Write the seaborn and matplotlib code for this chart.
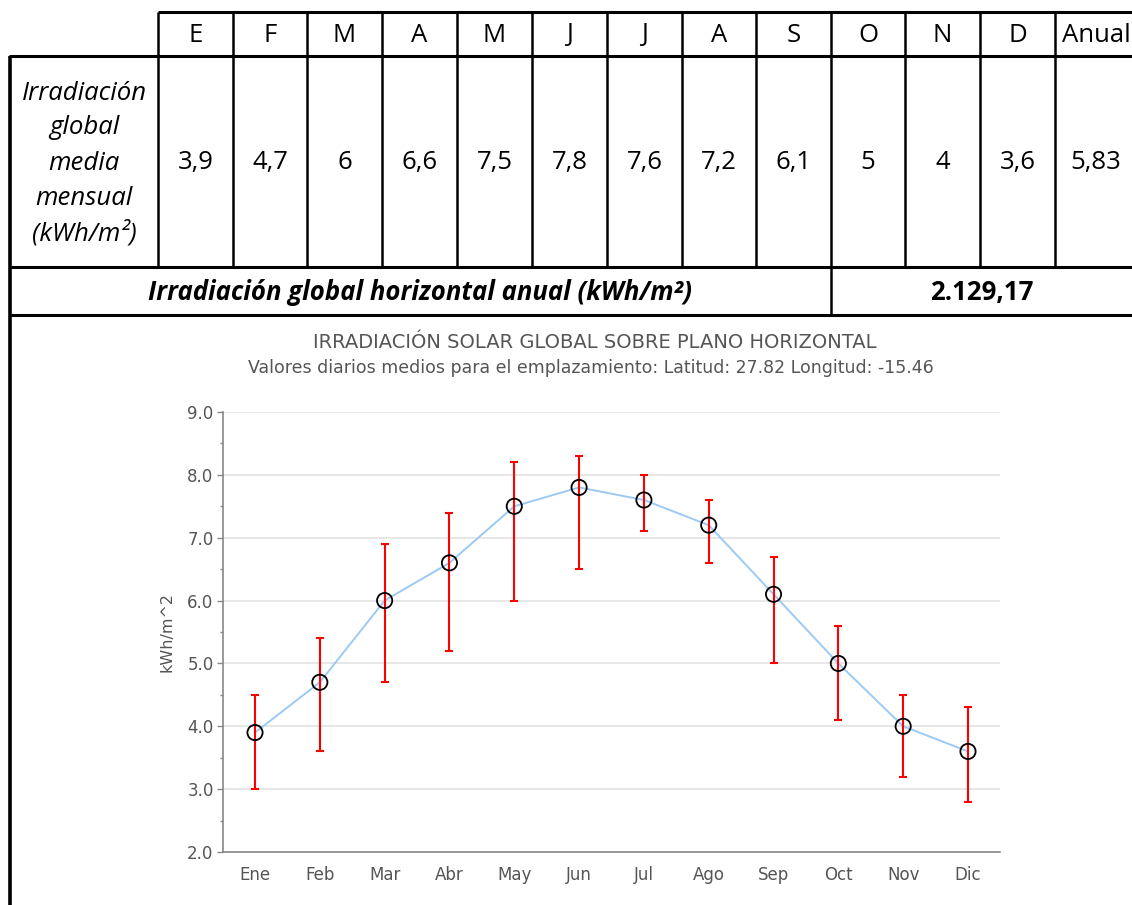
import numpy as np
import pandas as pd
import matplotlib
matplotlib.use("Agg")
import matplotlib.pyplot as plt
import seaborn as sns
from matplotlib.ticker import MultipleLocator, FormatStrFormatter

# ---------------- data ----------------
meses = ["Ene", "Feb", "Mar", "Abr", "May", "Jun", "Jul", "Ago", "Sep", "Oct", "Nov", "Dic"]
irradiacion = [3.9, 4.7, 6.0, 6.6, 7.5, 7.8, 7.6, 7.2, 6.1, 5.0, 4.0, 3.6]
minimo = [3.0, 3.6, 4.7, 5.2, 6.0, 6.5, 7.1, 6.6, 5.0, 4.1, 3.2, 2.8]
maximo = [4.5, 5.4, 6.9, 7.4, 8.2, 8.3, 8.0, 7.6, 6.7, 5.6, 4.5, 4.3]

cabecera = ["E", "F", "M", "A", "M", "J", "J", "A", "S", "O", "N", "D", "Anual"]
valores_tabla = ["3,9", "4,7", "6", "6,6", "7,5", "7,8", "7,6", "7,2", "6,1", "5", "4", "3,6", "5,83"]
etiqueta_fila = ["Irradiación", "global", "media", "mensual", "(kWh/m²)"]
etiqueta_total = "Irradiación global horizontal anual (kWh/m²)"
valor_total = "2.129,17"

titulo = "IRRADIACIÓN SOLAR GLOBAL SOBRE PLANO HORIZONTAL"
subtitulo = "Valores diarios medios para el emplazamiento: Latitud: 27.82 Longitud: -15.46"
etiqueta_y = "kWh/m^2"

# ---------------- figure ----------------
sns.set_theme(style="white")
plt.rcParams['font.family'] = ['DejaVu Sans']

W, H = 1132, 905
fig = plt.figure(figsize=(W / 100, H / 100), dpi=100)
fig.patch.set_facecolor("white")

# table layer (pixel coordinates)
tab = fig.add_axes([0, 0, 1, 1])
tab.set_xlim(0, W)
tab.set_ylim(H, 0)
tab.axis("off")

col_edges = [158, 233, 307, 382, 457, 532, 607, 682, 756, 831, 905, 980, 1055, 1135]
y_top, y_head, y_data, y_total = 12, 56, 267, 315
x_left = 10
lw_h = 2.2
lw_v = 1.8
k = dict(color="black", solid_capstyle="butt")

tab.plot([col_edges[0], W + 5], [y_top, y_top], lw=lw_h, **k)
for yy in (y_head, y_data, y_total):
    tab.plot([x_left - 1.5, W + 5], [yy, yy], lw=lw_h, **k)
for xe in col_edges[:-1]:
    tab.plot([xe, xe], [y_top, y_data], lw=lw_v, **k)
tab.plot([x_left, x_left], [y_head, H + 5], lw=2.6, **k)
tab.plot([831, 831], [y_data, y_total], lw=lw_v, **k)

tfont = ['Open Sans', 'DejaVu Sans']
fs_t = 18.5
for i, (hd, vv) in enumerate(zip(cabecera, valores_tabla)):
    cx = (col_edges[i] + col_edges[i + 1]) / 2
    if i == len(cabecera) - 1:
        cx = 1096
    tab.text(cx, (y_top + y_head) / 2 + 1, hd, ha="center", va="center",
             fontsize=fs_t, family=tfont, color="black")
    tab.text(cx, (y_head + y_data) / 2 + 1, vv, ha="center", va="center",
             fontsize=fs_t, family=tfont, color="black")

for j, line in enumerate(etiqueta_fila):
    tab.text(84, 163 + (j - 2) * 35, line, ha="center", va="center",
             fontsize=fs_t, family=tfont, style="italic", color="black")

tab.text(420, (y_data + y_total) / 2 + 1, etiqueta_total, ha="center", va="center",
         fontsize=fs_t, family=tfont, style="italic", weight="bold", color="black")
tab.text(982, (y_data + y_total) / 2 + 1, valor_total, ha="center", va="center",
         fontsize=fs_t, family=tfont, weight="bold", color="black")

# chart titles
fig.text(595 / W, 1 - 343 / H, titulo, ha="center", va="center",
         color="#555555", fontsize=14)
fig.text(591 / W, 1 - 368 / H, subtitulo, ha="center", va="center",
         color="#555555", fontsize=12.5)

# ---------------- chart ----------------
ax = fig.add_axes([222.6 / W, (H - 852) / H, (1000.4 - 222.6) / W, (852 - 412) / H])
df = pd.DataFrame({"mes": meses, "valor": irradiacion, "min": minimo, "max": maximo})

sns.lineplot(data=df, x="mes", y="valor", ax=ax, sort=False, color="#9ccaf5",
             linewidth=1.4, zorder=2)
ax.errorbar(df["mes"], df["valor"],
            yerr=[df["valor"] - df["min"], df["max"] - df["valor"]],
            fmt="none", ecolor="#ff0000", elinewidth=1.5, capsize=3.0, capthick=1.5,
            zorder=3)
sns.scatterplot(data=df, x="mes", y="valor", ax=ax, marker="o", s=120,
                facecolor="none", edgecolor="black", linewidth=1.3, zorder=4)

ax.set_xlim(-0.5, len(meses) - 0.5)
ax.set_ylim(2, 9)
ax.yaxis.set_major_locator(MultipleLocator(1.0))
ax.yaxis.set_minor_locator(MultipleLocator(0.5))
ax.yaxis.set_major_formatter(FormatStrFormatter("%.1f"))
ax.grid(axis="y", which="major", color="#e3e3e3", linewidth=1.2)
ax.set_axisbelow(True)
for s in ("top", "right"):
    ax.spines[s].set_visible(False)
for s in ("left", "bottom"):
    ax.spines[s].set_color("#888888")
    ax.spines[s].set_linewidth(1.2)
ax.tick_params(axis="y", which="major", length=4.5, width=1, color="#888888",
               labelcolor="#555555", labelsize=12, pad=2, left=True)
ax.tick_params(axis="y", which="minor", length=2.5, width=1, color="#888888", left=True)
ax.tick_params(axis="x", length=0, labelcolor="#555555", labelsize=12, pad=10)
ax.set_xlabel("")
ax.set_ylabel(etiqueta_y, color="#555555", fontsize=11.5)
ax.yaxis.set_label_coords((175 - 222.6) / (1000.4 - 222.6), 0.5)

fig.savefig("out.png", dpi=100, facecolor="white")
